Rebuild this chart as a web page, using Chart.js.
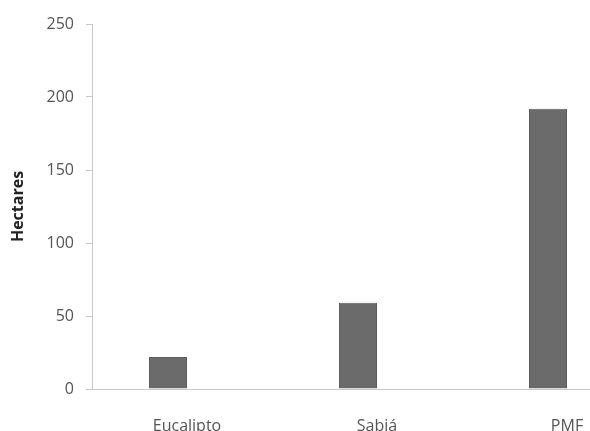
<!DOCTYPE html>
<html>
<head>
<meta charset="utf-8">
<script src="https://cdn.jsdelivr.net/npm/chart.js@4"></script>
<style>
  html, body { margin: 0; padding: 0; background: #fff; overflow: hidden; width: 590px; height: 431px; }
  canvas { display: block; }
</style>
</head>
<body>
<canvas id="c" width="670" height="450" style="width:670px;height:450px"></canvas>
<script>
const categories = ['Eucalipto', 'Sabiá', 'PMF'];
const hectares = [22, 59, 192];
const emptySeries = [null, null, null];
const yTicks = [0, 50, 100, 150, 200, 250];
const yTitle = 'Hectares';

const FONT = "'Open Sans', 'Liberation Sans', sans-serif";

new Chart(document.getElementById('c'), {
  type: 'bar',
  data: {
    labels: categories,
    datasets: [
      { data: hectares, backgroundColor: '#6b6b6b', borderColor: '#5c5c5c', borderWidth: 1 },
      { data: emptySeries, backgroundColor: '#6b6b6b' }
    ]
  },
  options: {
    responsive: false,
    animation: false,
    devicePixelRatio: 1,
    categoryPercentage: 0.4,
    barPercentage: 1.0,
    layout: { padding: { top: 24, right: 8, bottom: 16, left: 0 } },
    plugins: { legend: { display: false }, tooltip: { enabled: false } },
    scales: {
      x: {
        afterFit: (s) => { s.height = 45; },
        grid: { display: false, drawTicks: false },
        border: { display: true, color: '#c8c8c8', width: 1 },
        ticks: { color: '#555555', font: { family: FONT, size: 16 }, padding: 28, maxRotation: 0, autoSkip: false }
      },
      y: {
        min: 0,
        max: 250,
        afterBuildTicks: (s) => { s.ticks = yTicks.map(v => ({ value: v })); },
        afterFit: (s) => { s.width = 92; },
        grid: { display: true, drawOnChartArea: false, drawTicks: true, tickLength: 6, color: '#c8c8c8' },
        border: { display: true, color: '#c8c8c8', width: 1 },
        ticks: { color: '#555555', font: { family: FONT, size: 16 }, padding: 12 },
        title: {
          display: true,
          text: yTitle,
          color: '#222222',
          font: { family: FONT, size: 16, weight: 'bold' },
          padding: { top: 9, bottom: 0 }
        }
      }
    }
  }
});
</script>
</body>
</html>
